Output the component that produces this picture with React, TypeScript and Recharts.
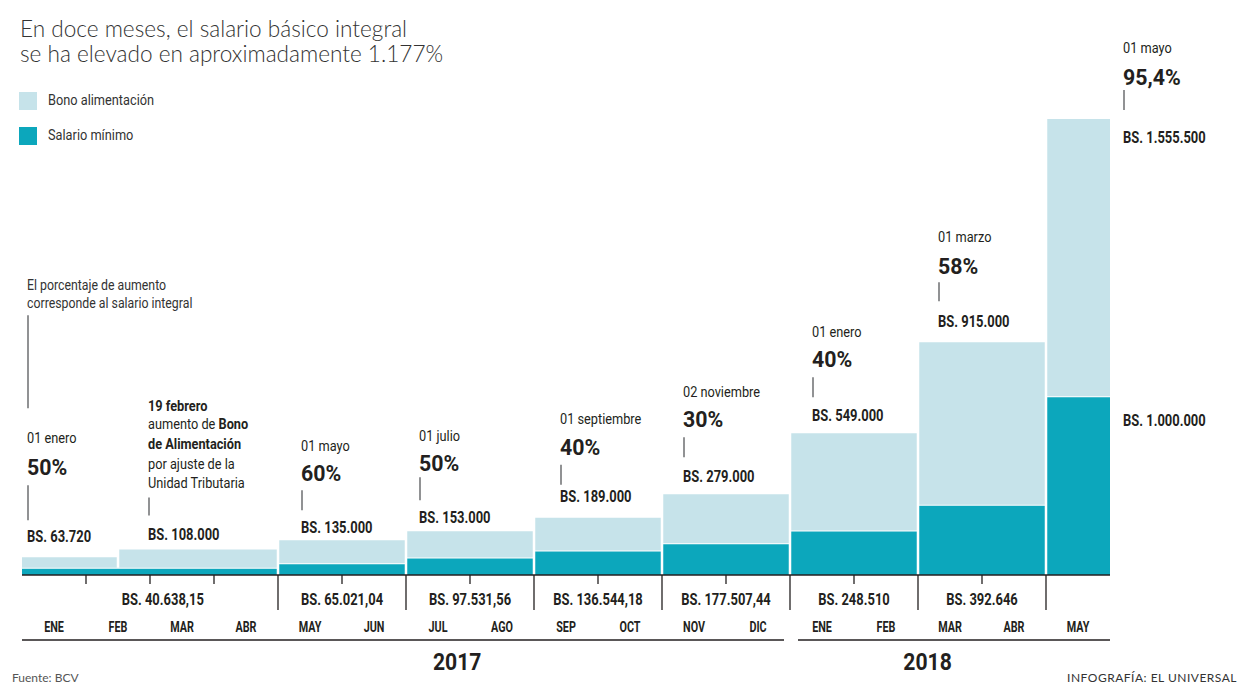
import React from 'react';
import { ComposedChart, Area, XAxis, YAxis, ReferenceLine, ReferenceDot } from 'recharts';

// ---------------- DATA ----------------
const meses = ['ENE', 'FEB', 'MAR', 'ABR', 'MAY', 'JUN', 'JUL', 'AGO', 'SEP', 'OCT', 'NOV', 'DIC', 'ENE', 'FEB', 'MAR', 'ABR', 'MAY'];
const anios = ['2017', '2018'];
// period starts, in months since 1 Jan 2017
const inicioPeriodo = [0, 1.5, 4, 6, 8, 10, 12, 14, 16];
const finPeriodo = 17;
const salarioMinimo = [40638.15, 40638.15, 65021.04, 97531.56, 136544.18, 177507.44, 248510, 392646, 1000000];
const bonoAlimentacion = [63720, 108000, 135000, 153000, 189000, 279000, 549000, 915000, 1555500];
const fechas = ['01 enero', '19 febrero', '01 mayo', '01 julio', '01 septiembre', '02 noviembre', '01 enero', '01 marzo', '01 mayo'];
const aumentos = ['50%', '', '60%', '50%', '40%', '30%', '40%', '58%', '95,4%'];
const tituloLineas = ['En doce meses, el salario básico integral', 'se ha elevado en aproximadamente 1.177%'];

// ---------------- LAYOUT / STYLE ----------------
const W = 1249;
const H = 699;
const M = { top: 110, left: 22, right: 139, bottom: 44 };
const AXIS_H = 80;
const Y_MAX = 2600000;
const MONTH_PX = (W - M.left - M.right) / finPeriodo;
const LIGHT = '#c6e3ea';
const DARK = '#0ca7bc';
const INK = '#231f20';
const LINE_GREY = '#6d6e71';
const GREY = '#555';
const FONT = "Roboto, 'Noto Sans', sans-serif";
const SANS = "Lato, 'Open Sans', sans-serif";
const SX_BOLD = 0.81;
const SX_REG = 0.88;
const SX_MONTH = 0.77;

// annotation layout per period (px offsets)
const annot = [
  { dx: 5, bs: -19, line: [-52, -17], pct: -70, date: -100 },
  { dx: 30, bs: -13, line: [-38, -20], pct: 0, date: -130 },
  { dx: 23, bs: -11, line: [-38, -18], pct: -55, date: -83 },
  { dx: 13, bs: -12, line: [-41, -18], pct: -55, date: -83 },
  { dx: 26, bs: -20, line: [-32, -12], pct: -49, date: -78 },
  { dx: 21, bs: -16, line: [-40, -20], pct: -58, date: -86 },
  { dx: 22, bs: -16, line: [-39, -19], pct: -57, date: -85 },
  { dx: 20, bs: -19, line: [-40, -21], pct: -56, date: -85 },
  { dx: 13, bs: 20, line: [-48, -28], pct: -61, date: -90, atEnd: true },
];
const firstSalaryShift = 0.2;
const anioX = [6.8, 14.15];

// ---------------- HELPERS ----------------
function fmt(v: number): string {
  const [i, d] = v.toFixed(2).split('.');
  const ip = i.replace(/\B(?=(\d{3})+(?!\d))/g, '.');
  return d === '00' ? ip : ip + ',' + d;
}

function T(props: {
  x: number;
  y: number;
  size: number;
  weight?: number;
  sx?: number;
  anchor?: 'start' | 'middle' | 'end';
  fill?: string;
  family?: string;
  children: any;
}) {
  const { x, y, size, weight = 400, sx = 1, anchor = 'start', fill = INK, family = FONT, children } = props;
  return (
    <text
      transform={`translate(${x},${y}) scale(${sx},1)`}
      x={0}
      y={0}
      textAnchor={anchor}
      dominantBaseline="central"
      fontFamily={family}
      fontSize={size}
      fontWeight={weight}
      fill={fill}
    >
      {children}
    </text>
  );
}

const data = [
  ...inicioPeriodo.map((x, i) => ({ x, salario: salarioMinimo[i], bono: bonoAlimentacion[i] })),
  { x: finPeriodo, salario: salarioMinimo[salarioMinimo.length - 1], bono: bonoAlimentacion[bonoAlimentacion.length - 1] },
];

// salary blocks (where the salary changes)
const salaryBlocks: { start: number; end: number; value: number }[] = [];
inicioPeriodo.forEach((x, i) => {
  if (i === 0 || salarioMinimo[i] !== salarioMinimo[i - 1]) {
    salaryBlocks.push({ start: x, end: finPeriodo, value: salarioMinimo[i] });
    if (salaryBlocks.length > 1) salaryBlocks[salaryBlocks.length - 2].end = x;
  }
});
const blockStarts = salaryBlocks.slice(1).map((b) => b.start);
const bonoOnlySteps = inicioPeriodo.filter((x, i) => i > 0 && salarioMinimo[i] === salarioMinimo[i - 1]);

const tickVals: number[] = [];
for (let i = 0; i < meses.length; i++) {
  if (i > 0) tickVals.push(i);
  tickVals.push(i + 0.5);
}

function MonthTick(props: any) {
  const { x, y, payload } = props;
  const v = payload.value as number;
  if (Number.isInteger(v)) {
    const long = blockStarts.includes(v);
    return <line x1={x} x2={x} y1={y} y2={y + (long ? 35 : 9)} stroke={INK} strokeWidth={1.3} />;
  }
  const idx = Math.round(v - 0.5);
  let x1 = x - MONTH_PX / 2;
  let x2 = x + MONTH_PX / 2;
  if (idx === 11) x2 -= 6;
  if (idx === 12) x1 += 8;
  return (
    <g>
      <T x={x} y={y + 52} size={14} weight={700} sx={SX_MONTH} anchor="middle">
        {meses[idx]}
      </T>
      <line x1={x1} x2={x2} y1={y + 65} y2={y + 65} stroke={INK} strokeWidth={1.5} />
    </g>
  );
}

function annotShape(i: number) {
  return (p: any) => {
    const a = annot[i];
    const cx = p.cx + a.dx;
    const bsY = p.cy + a.bs;
    const els: any[] = [];
    els.push(
      <T key="bs" x={cx} y={bsY} size={16} weight={700} sx={SX_BOLD}>
        {'BS. ' + fmt(bonoAlimentacion[i])}
      </T>
    );
    els.push(<line key="ln" x1={cx + 1} x2={cx + 1} y1={bsY + a.line[0]} y2={bsY + a.line[1]} stroke={LINE_GREY} strokeWidth={1.5} />);
    if (i === 1) {
      const lines: [string, string, boolean][] = [
        [fechas[i], '', true],
        ['aumento de ', 'Bono', false],
        ['', 'de Alimentación', false],
        ['por ajuste de la', '', false],
        ['Unidad Tributaria', '', false],
      ];
      const ys = [-130, -112, -92, -72, -53];
      lines.forEach(([reg, bold, allBold], k) => {
        els.push(
          <T key={'t' + k} x={cx} y={bsY + ys[k]} size={14.5} sx={SX_REG}>
            {allBold ? <tspan fontWeight={700}>{reg}</tspan> : <tspan>{reg}</tspan>}
            {bold ? <tspan fontWeight={700}>{bold}</tspan> : null}
          </T>
        );
      });
    } else {
      els.push(
        <T key="pct" x={cx} y={bsY + a.pct} size={22} weight={700} sx={0.97}>
          {aumentos[i]}
        </T>
      );
      els.push(
        <T key="dt" x={cx} y={bsY + a.date} size={14.5} sx={SX_REG}>
          {fechas[i]}
        </T>
      );
    }
    if (i === 0) {
      els.push(<line key="nl" x1={cx + 1} x2={cx + 1} y1={bsY - 222} y2={bsY - 129} stroke={LINE_GREY} strokeWidth={1.5} />);
      els.push(
        <T key="n1" x={cx} y={bsY - 252} size={14} sx={SX_REG} fill="#333">
          El porcentaje de aumento
        </T>
      );
      els.push(
        <T key="n2" x={cx} y={bsY - 234} size={14} sx={SX_REG} fill="#333">
          corresponde al salario integral
        </T>
      );
    }
    return <g>{els}</g>;
  };
}

function salaryShape(b: { start: number; end: number; value: number }, last: boolean) {
  return (p: any) =>
    last ? (
      <T x={p.cx + 13} y={p.cy + 25} size={16} weight={700} sx={SX_BOLD}>
        {'BS. ' + fmt(b.value)}
      </T>
    ) : (
      <T x={p.cx} y={p.cy + 25} size={16} weight={700} sx={SX_BOLD} anchor="middle">
        {'BS. ' + fmt(b.value)}
      </T>
    );
}

function yearShape(label: string) {
  return (p: any) => (
    <T x={p.cx} y={p.cy + 87} size={23} weight={700} sx={0.92} anchor="middle">
      {label}
    </T>
  );
}

const legendText: React.CSSProperties = {
  position: 'absolute',
  left: 48,
  lineHeight: '18px',
  fontFamily: FONT,
  fontSize: 14.5,
  color: '#333',
  transform: `scaleX(${SX_REG})`,
  transformOrigin: 'left center',
  whiteSpace: 'nowrap',
};

const titleText: React.CSSProperties = {
  position: 'absolute',
  left: 20,
  fontFamily: SANS,
  fontWeight: 300,
  fontSize: 22.6,
  lineHeight: '24px',
  color: '#333',
  whiteSpace: 'nowrap',
};

export default function App() {
  return (
    <div style={{ position: 'absolute', left: 0, top: 0, width: W, height: H, background: '#fff', overflow: 'hidden' }}>
      <div style={{ ...titleText, top: 17 }}>{tituloLineas[0]}</div>
      <div style={{ ...titleText, top: 42 }}>{tituloLineas[1]}</div>
      <div style={{ position: 'absolute', left: 19, top: 92, width: 18, height: 18, background: LIGHT }} />
      <div style={{ ...legendText, top: 92 }}>Bono alimentación</div>
      <div style={{ position: 'absolute', left: 19, top: 127, width: 18, height: 18, background: DARK }} />
      <div style={{ ...legendText, top: 127 }}>Salario mínimo</div>
      <div style={{ position: 'absolute', left: 12, top: 670, lineHeight: '16px', fontFamily: SANS, fontSize: 12, color: GREY }}>Fuente: BCV</div>
      <div style={{ position: 'absolute', right: 12, top: 670, lineHeight: '16px', fontFamily: SANS, fontSize: 12, letterSpacing: 0.5, color: '#333' }}>
        INFOGRAFÍA: EL UNIVERSAL
      </div>

      <div style={{ position: 'absolute', left: 0, top: 0 }}>
        <ComposedChart width={W} height={H} data={data} margin={M}>
          <XAxis
            dataKey="x"
            type="number"
            domain={[0, finPeriodo]}
            ticks={tickVals}
            interval={0}
            tick={(p: any) => <MonthTick {...p} />}
            tickLine={false}
            tickSize={0}
            tickMargin={0}
            axisLine={{ stroke: INK, strokeWidth: 1.5 }}
            height={AXIS_H}
            allowDataOverflow
          />
          <YAxis hide type="number" domain={[0, Y_MAX]} allowDataOverflow />
          <Area type="stepAfter" dataKey="salario" stackId="s" fill={DARK} fillOpacity={1} stroke="#fff" strokeWidth={2} isAnimationActive={false} />
          <Area type="stepAfter" dataKey="bono" stackId="s" fill={LIGHT} fillOpacity={1} stroke="#fff" strokeWidth={2} isAnimationActive={false} />
          {blockStarts.map((b) => (
            <ReferenceLine key={'sep' + b} x={b} stroke="#fff" strokeWidth={2.5} />
          ))}
          {bonoOnlySteps.map((b) => {
            const i = inicioPeriodo.indexOf(b);
            return (
              <ReferenceLine
                key={'bsep' + b}
                segment={[
                  { x: b, y: salarioMinimo[i] },
                  { x: b, y: salarioMinimo[i] + Math.max(bonoAlimentacion[i], bonoAlimentacion[i - 1]) },
                ]}
                stroke="#fff"
                strokeWidth={2.5}
              />
            );
          })}
          {inicioPeriodo.map((x, i) => (
            <ReferenceDot
              key={'an' + i}
              x={annot[i].atEnd ? finPeriodo : x}
              y={salarioMinimo[i] + bonoAlimentacion[i]}
              r={0}
              ifOverflow="visible"
              shape={annotShape(i)}
            />
          ))}
          {salaryBlocks.map((b, k) => {
            const last = k === salaryBlocks.length - 1;
            const xPos = last ? b.end : (b.start + b.end) / 2 + (k === 0 ? firstSalaryShift : 0);
            return (
              <ReferenceDot key={'sal' + k} x={xPos} y={last ? b.value : 0} r={0} ifOverflow="visible" shape={salaryShape(b, last)} />
            );
          })}
          {anios.map((a, k) => (
            <ReferenceDot key={'yr' + a} x={anioX[k]} y={0} r={0} ifOverflow="visible" shape={yearShape(a)} />
          ))}
        </ComposedChart>
      </div>
    </div>
  );
}
